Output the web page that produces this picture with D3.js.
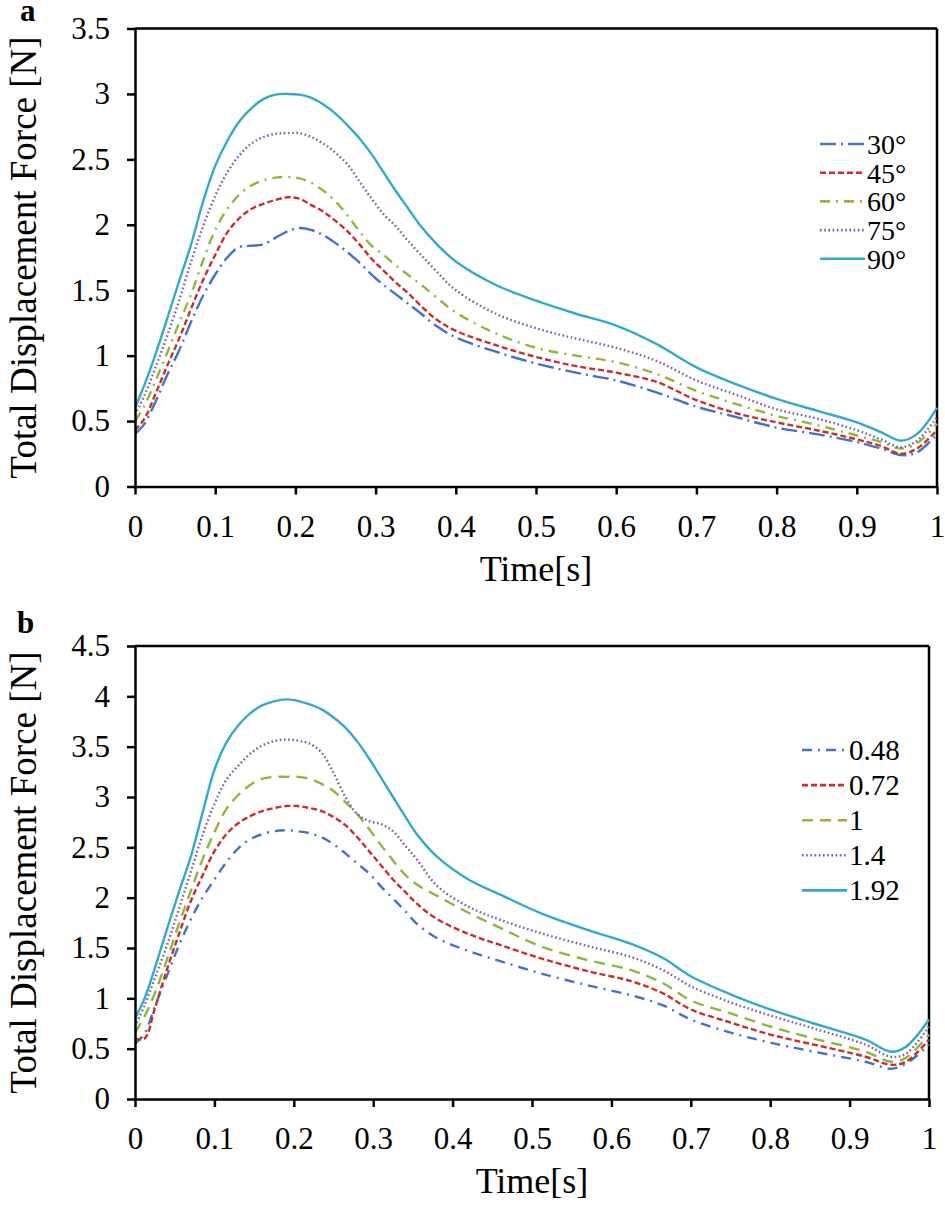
<!DOCTYPE html>
<html><head><meta charset="utf-8">
<script src="https://cdn.jsdelivr.net/npm/d3@7"></script>
<style>
body{margin:0;background:#fff}
svg{display:block}
</style>
</head><body>
<svg id="chart" width="945" height="1205"></svg>
<script>
// ---------- DATA ----------
const xTicks = [0, 0.1, 0.2, 0.3, 0.4, 0.5, 0.6, 0.7, 0.8, 0.9, 1];
const yTicksA = [0, 0.5, 1, 1.5, 2, 2.5, 3, 3.5];
const yTicksB = [0, 0.5, 1, 1.5, 2, 2.5, 3, 3.5, 4, 4.5];

const namesA = ["30°", "45°", "60°", "75°", "90°"];
const namesB = ["0.48", "0.72", "1", "1.4", "1.92"];

const timeA = [0, 0.012, 0.025, 0.04, 0.055, 0.07, 0.085, 0.1, 0.115, 0.13, 0.145, 0.16, 0.175, 0.19, 0.205, 0.22, 0.235, 0.25, 0.265, 0.28, 0.295, 0.31, 0.325, 0.34, 0.355, 0.375, 0.4, 0.45, 0.5, 0.55, 0.6, 0.65, 0.7, 0.75, 0.8, 0.85, 0.9, 0.93, 0.955, 0.975, 1];
const force30 = [0.40, 0.48, 0.64, 0.85, 1.04, 1.26, 1.46, 1.62, 1.75, 1.83, 1.84, 1.85, 1.90, 1.95, 1.975, 1.96, 1.92, 1.86, 1.79, 1.71, 1.62, 1.54, 1.47, 1.40, 1.33, 1.23, 1.14, 1.03, 0.94, 0.87, 0.81, 0.72, 0.61, 0.53, 0.45, 0.40, 0.34, 0.29, 0.24, 0.26, 0.40];
const force45 = [0.43, 0.52, 0.70, 0.92, 1.13, 1.36, 1.58, 1.77, 1.94, 2.05, 2.12, 2.16, 2.19, 2.21, 2.20, 2.15, 2.10, 2.03, 1.95, 1.85, 1.74, 1.65, 1.56, 1.48, 1.39, 1.28, 1.19, 1.08, 0.99, 0.92, 0.87, 0.80, 0.66, 0.56, 0.49, 0.43, 0.36, 0.31, 0.25, 0.29, 0.43];
const force60 = [0.50, 0.62, 0.80, 1.02, 1.25, 1.47, 1.73, 1.96, 2.12, 2.23, 2.30, 2.34, 2.36, 2.365, 2.355, 2.32, 2.26, 2.18, 2.07, 1.95, 1.84, 1.77, 1.69, 1.62, 1.55, 1.45, 1.33, 1.17, 1.06, 1.00, 0.95, 0.86, 0.73, 0.63, 0.54, 0.47, 0.39, 0.34, 0.29, 0.33, 0.48];
const force75 = [0.55, 0.70, 0.90, 1.15, 1.42, 1.72, 1.99, 2.22, 2.40, 2.53, 2.62, 2.67, 2.695, 2.70, 2.70, 2.67, 2.62, 2.55, 2.46, 2.33, 2.20, 2.08, 1.99, 1.88, 1.78, 1.65, 1.50, 1.32, 1.21, 1.13, 1.06, 0.96, 0.81, 0.70, 0.59, 0.52, 0.43, 0.36, 0.30, 0.35, 0.53];
const force90 = [0.60, 0.78, 1.00, 1.28, 1.57, 1.85, 2.18, 2.45, 2.64, 2.79, 2.89, 2.96, 2.995, 3.00, 2.995, 2.97, 2.92, 2.85, 2.76, 2.66, 2.54, 2.40, 2.26, 2.13, 2.00, 1.86, 1.72, 1.54, 1.42, 1.32, 1.23, 1.09, 0.91, 0.78, 0.67, 0.58, 0.49, 0.415, 0.35, 0.40, 0.60];

const timeB = [0, 0.012, 0.025, 0.04, 0.055, 0.07, 0.085, 0.1, 0.115, 0.13, 0.145, 0.16, 0.175, 0.19, 0.205, 0.22, 0.235, 0.25, 0.265, 0.28, 0.295, 0.31, 0.325, 0.34, 0.355, 0.38, 0.42, 0.46, 0.51, 0.57, 0.625, 0.665, 0.7, 0.75, 0.8, 0.855, 0.92, 0.952, 0.971, 1];
const force048 = [0.55, 0.65, 0.92, 1.22, 1.52, 1.78, 2.00, 2.18, 2.35, 2.49, 2.58, 2.63, 2.66, 2.67, 2.66, 2.64, 2.60, 2.53, 2.44, 2.34, 2.24, 2.11, 1.99, 1.87, 1.74, 1.60, 1.47, 1.37, 1.25, 1.13, 1.03, 0.93, 0.79, 0.66, 0.56, 0.47, 0.37, 0.30, 0.35, 0.54];
const force072 = [0.60, 0.60, 0.90, 1.28, 1.63, 1.96, 2.22, 2.46, 2.63, 2.74, 2.81, 2.86, 2.89, 2.91, 2.91, 2.89, 2.86, 2.80, 2.72, 2.60, 2.46, 2.32, 2.18, 2.06, 1.94, 1.79, 1.64, 1.53, 1.40, 1.27, 1.17, 1.05, 0.89, 0.76, 0.64, 0.54, 0.42, 0.34, 0.37, 0.59];
const force1 = [0.66, 0.82, 1.05, 1.38, 1.73, 2.06, 2.38, 2.65, 2.88, 3.02, 3.12, 3.18, 3.20, 3.20, 3.20, 3.18, 3.13, 3.06, 2.95, 2.83, 2.68, 2.52, 2.37, 2.23, 2.13, 2.02, 1.85, 1.70, 1.52, 1.38, 1.28, 1.15, 0.98, 0.85, 0.72, 0.60, 0.47, 0.37, 0.41, 0.64];
const force14 = [0.72, 0.93, 1.20, 1.52, 1.88, 2.25, 2.62, 2.93, 3.17, 3.31, 3.43, 3.51, 3.555, 3.57, 3.56, 3.53, 3.44, 3.24, 3.00, 2.83, 2.76, 2.73, 2.66, 2.52, 2.38, 2.12, 1.91, 1.78, 1.65, 1.52, 1.41, 1.28, 1.12, 0.96, 0.83, 0.70, 0.54, 0.42, 0.45, 0.72];
const force192 = [0.80, 1.00, 1.30, 1.68, 2.05, 2.40, 2.84, 3.27, 3.54, 3.71, 3.83, 3.91, 3.95, 3.97, 3.955, 3.92, 3.87, 3.79, 3.69, 3.55, 3.38, 3.19, 3.00, 2.81, 2.63, 2.41, 2.18, 2.03, 1.85, 1.68, 1.54, 1.40, 1.22, 1.04, 0.89, 0.75, 0.59, 0.47, 0.52, 0.79];

// ---------- STYLES ----------
const FONT = '"Liberation Serif"';
const colors = ["#4472C4", "#C8302C", "#8DB83C", "#7B5EA7", "#35A9C9"];
const dashesA = ["16,5,2,5", "6,3", "10,6,2,6", "1.6,2.6", null];
const dashesB = ["10,6,2,6", "6,3", "11,7", "1.6,2.6", null];

const svg = d3.select("#chart");

function txt(sel, size, weight) {
  return sel.style("font-family", FONT).style("font-size", size + "px")
    .style("font-weight", weight || "normal").attr("fill", "#000");
}

function panel(cfg) {
  const x = d3.scaleLinear().domain([0, 1]).range([cfg.left, cfg.right]);
  const y = d3.scaleLinear().domain([0, cfg.yMax]).range([cfg.bottom, cfg.top]);
  const g = svg.append("g");

  // frame top/right
  g.append("line").attr("x1", cfg.left).attr("x2", cfg.right).attr("y1", cfg.top).attr("y2", cfg.top)
    .attr("stroke", "#000").attr("stroke-width", 2.5);
  g.append("line").attr("x1", cfg.right).attr("x2", cfg.right).attr("y1", cfg.top).attr("y2", cfg.bottom)
    .attr("stroke", "#000").attr("stroke-width", 2.5);

  // series
  const line = d3.line().x(d => x(d[0])).y(d => y(d[1])).curve(d3.curveCatmullRom.alpha(0.5));
  cfg.series.forEach((s, i) => {
    const pts = cfg.time.map((t, k) => [t, s[k]]);
    g.append("path").attr("d", line(pts)).attr("fill", "none")
      .attr("stroke", colors[i]).attr("stroke-width", 2.4)
      .attr("stroke-dasharray", cfg.dashes[i]);
  });

  // axes
  const xa = g.append("g").attr("transform", `translate(0,${cfg.bottom})`)
    .call(d3.axisBottom(x).tickValues(xTicks).tickFormat(d3.format("~g")).tickSize(8).tickSizeOuter(0).tickPadding(20));
  const ya = g.append("g").attr("transform", `translate(${cfg.left},0)`)
    .call(d3.axisLeft(y).tickValues(cfg.yTicks).tickFormat(d3.format("~g")).tickSize(8).tickSizeOuter(0).tickPadding(17));
  [xa, ya].forEach(a => {
    a.attr("font-family", null).attr("font-size", null);
    a.select(".domain").attr("stroke", "#000").attr("stroke-width", 2.5);
    a.selectAll(".tick line").attr("stroke", "#000").attr("stroke-width", 2.5);
    txt(a.selectAll(".tick text"), 31);
  });

  // axis titles
  txt(g.append("text").attr("x", (cfg.left + cfg.right) / 2).attr("y", cfg.bottom + 94)
    .attr("text-anchor", "middle"), 36).text("Time[s]");
  txt(g.append("text").attr("transform", `translate(36,${(cfg.top + cfg.bottom) / 2}) rotate(-90)`)
    .attr("text-anchor", "middle"), 37).text("Total Displacement Force [N]");

  // panel letter
  txt(g.append("text").attr("x", cfg.letterX).attr("y", cfg.letterY), 31, "bold").text(cfg.letter);

  // legend
  cfg.names.forEach((n, i) => {
    const cy = cfg.legY + i * cfg.legStep;
    g.append("line").attr("x1", cfg.legX).attr("x2", cfg.legX + 45).attr("y1", cy).attr("y2", cy)
      .attr("stroke", colors[i]).attr("stroke-width", 2.6).attr("stroke-dasharray", cfg.dashes[i]);
    txt(g.append("text").attr("x", cfg.legX + 47).attr("y", cy + 10), cfg.legFont).text(n);
  });
}

panel({
  left: 135, right: 937, top: 28.5, bottom: 486.5, yMax: 3.5, yTicks: yTicksA,
  time: timeA, series: [force30, force45, force60, force75, force90], dashes: dashesA,
  names: namesA, legX: 820, legY: 144, legStep: 28.7, legFont: 28,
  letter: "a", letterX: 20, letterY: 21
});
panel({
  left: 135, right: 929, top: 646, bottom: 1099, yMax: 4.5, yTicks: yTicksB,
  time: timeB, series: [force048, force072, force1, force14, force192], dashes: dashesB,
  names: namesB, legX: 802, legY: 750, legStep: 35.1, legFont: 29,
  letter: "b", letterX: 17, letterY: 633
});
</script>
</body></html>
